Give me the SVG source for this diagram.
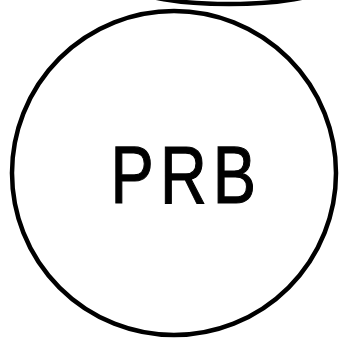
<svg xmlns="http://www.w3.org/2000/svg" width="342" height="338" viewBox="0 0 342 338">
<style>
.ln{fill:none;stroke:#000;stroke-width:4.5}
.lb{font-family:"Liberation Sans",Arial,sans-serif;font-size:81px;fill:#000;stroke:#000;stroke-width:1.2}
</style>
<rect width="342" height="338" fill="#fff"/>
<g id="top-node"><ellipse class="ln" cx="229" cy="-12" rx="92" ry="16" stroke-width="3.5"/></g>
<g id="prb"><circle class="ln" cx="174" cy="173" r="162"/>
<g transform="translate(184,0) scale(0.8,1)"><text class="lb" x="-92 -30 36" y="203">PRB</text></g></g>
</svg>
